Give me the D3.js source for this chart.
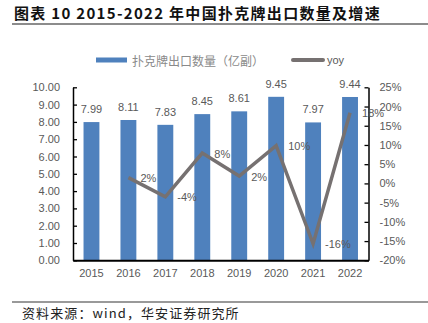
<!DOCTYPE html>
<html><head><meta charset="utf-8">
<script src="https://cdn.jsdelivr.net/npm/d3@7"></script>
<style>
html,body{margin:0;padding:0;background:#fff;}
svg{display:block;}
</style></head>
<body>
<svg id="c" width="428" height="323"></svg>
<script>
const years = ["2015","2016","2017","2018","2019","2020","2021","2022"];
const volume = [7.99, 8.11, 7.83, 8.45, 8.61, 9.45, 7.97, 9.44];
const yoy = [null, 1.5, -3.5, 7.9, 1.9, 9.8, -15.7, 18.4];
const yoyLabels = ["", "2%", "-4%", "8%", "2%", "10%", "-16%", "18%"];
const leftTicks = [0,1,2,3,4,5,6,7,8,9,10];
const rightTicks = [-20,-15,-10,-5,0,5,10,15,20,25];
const titleText = "图表 10 2015-2022 年中国扑克牌出口数量及增速";
const sourceText = "资料来源：wind，华安证券研究所";
const legendNames = ["扑克牌出口数量（亿副）", "yoy"];

const svg = d3.select("#c");
const NUM = "'Liberation Sans', Arial, sans-serif";
const CJK = "'Noto Sans CJK SC', sans-serif";
const TXT = "#595959";
const BAR = "#4F81BD";
const LINE = "#767171";

const L = 73, R = 368.5, T = 87.3, B = 260.3;

const x = d3.scaleBand().domain(years).range([L, R]).paddingInner(0.57).paddingOuter(0.285);
const yL = d3.scaleLinear().domain([0, 10]).range([B, T]);
const yR = d3.scaleLinear().domain([-20, 25]).range([B, T]);

// title
svg.append("text").attr("x", 14).attr("y", 18.5)
  .attr("font-family", CJK).attr("font-weight", "bold").attr("font-size", 15)
  .attr("letter-spacing", 1.3)
  .attr("fill", "#111").text(titleText);
svg.append("line").attr("x1", 12).attr("x2", 428).attr("y1", 24).attr("y2", 24)
  .attr("stroke", "#8c8c8c").attr("stroke-width", 2);

// legend
svg.append("rect").attr("x", 96).attr("y", 57.5).attr("width", 31).attr("height", 5).attr("fill", BAR);
svg.append("text").attr("x", 132).attr("y", 60).attr("dominant-baseline", "central")
  .attr("font-family", CJK).attr("font-size", 12).attr("fill", "#8a8a8a").text(legendNames[0]);
svg.append("line").attr("x1", 293).attr("x2", 323).attr("y1", 60).attr("y2", 60)
  .attr("stroke", LINE).attr("stroke-width", 4).attr("stroke-linecap", "round");
svg.append("text").attr("x", 327).attr("y", 60).attr("dominant-baseline", "central")
  .attr("font-family", NUM).attr("font-size", 11).attr("fill", TXT).text(legendNames[1]);

// bars
svg.append("g").selectAll("rect").data(years).join("rect")
  .attr("x", d => x(d)).attr("width", x.bandwidth())
  .attr("y", (d, i) => yL(volume[i])).attr("height", (d, i) => B - yL(volume[i]))
  .attr("fill", BAR);

svg.append("g").selectAll("text").data(years).join("text")
  .attr("x", d => x(d) + x.bandwidth() / 2)
  .attr("y", (d, i) => yL(volume[i]) - 13)
  .attr("text-anchor", "middle").attr("dominant-baseline", "central")
  .attr("font-family", NUM).attr("font-size", 11).attr("fill", TXT)
  .text((d, i) => volume[i].toFixed(2));

// axes
const gl = svg.append("g").attr("transform", `translate(${L},0)`)
  .call(d3.axisLeft(yL).tickValues(leftTicks).tickSizeInner(-4).tickSizeOuter(0).tickPadding(13).tickFormat(d3.format(".2f")));
const gr = svg.append("g").attr("transform", `translate(${R},0)`)
  .call(d3.axisRight(yR).tickValues(rightTicks).tickSizeInner(-4).tickSizeOuter(0).tickPadding(11).tickFormat(d => d + "%"));
const gx = svg.append("g").attr("transform", `translate(0,${B})`)
  .call(d3.axisBottom(x).tickSize(0).tickPadding(9));
[gl, gr, gx].forEach(g => {
  g.selectAll("text").attr("font-family", NUM).attr("font-size", 11).attr("fill", TXT);
  g.selectAll("line").attr("stroke", "#000").attr("stroke-width", 1.3);
  g.select(".domain").attr("stroke", "#000").attr("stroke-width", 1.5);
});
gx.select(".domain").attr("stroke-width", 2);

// yoy line
const pts = years.map((d, i) => ({ d, v: yoy[i], l: yoyLabels[i] })).filter(p => p.v !== null);
const line = d3.line().x(p => x(p.d) + x.bandwidth() / 2).y(p => yR(p.v));
svg.append("path").datum(pts).attr("d", line).attr("fill", "none")
  .attr("stroke", LINE).attr("stroke-width", 3.5).attr("stroke-linejoin", "miter");

svg.append("g").selectAll("text").data(pts).join("text")
  .attr("x", p => x(p.d) + x.bandwidth() / 2 + 12)
  .attr("y", p => yR(p.v) + 0.5)
  .attr("dominant-baseline", "central")
  .attr("font-family", NUM).attr("font-size", 11).attr("fill", TXT)
  .text(p => p.l);

// source
svg.append("line").attr("x1", 12).attr("x2", 428).attr("y1", 302).attr("y2", 302)
  .attr("stroke", "#777").attr("stroke-width", 1.5);
svg.append("text").attr("x", 22).attr("y", 312.5).attr("dominant-baseline", "central")
  .attr("font-family", CJK).attr("font-size", 13).attr("letter-spacing", 1.1)
  .attr("fill", "#222").text(sourceText);
</script>
</body></html>
